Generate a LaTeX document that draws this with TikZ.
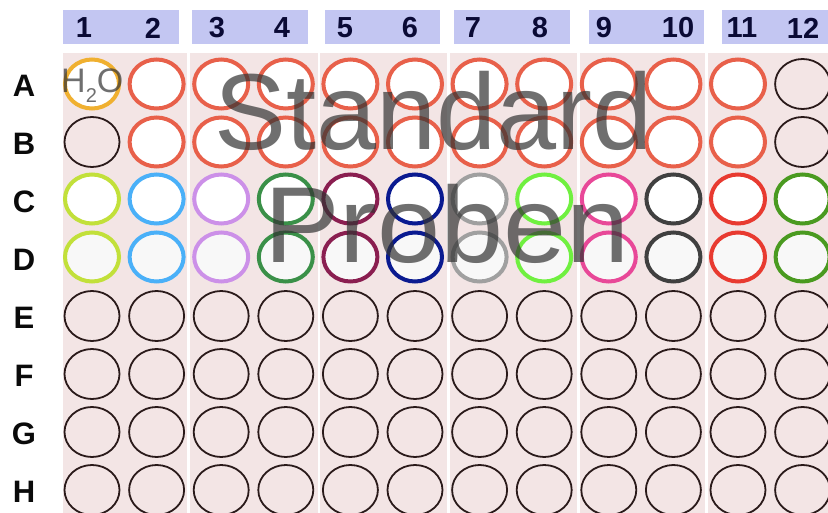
\documentclass[tikz,border=0pt]{standalone}
\usepackage{fontspec}
\setmainfont{Liberation Sans}
\usetikzlibrary{shapes.geometric}
\definecolor{hdr}{HTML}{C3C6F2}
\definecolor{pinkbg}{HTML}{F3E5E5}
\definecolor{numcol}{HTML}{0A0A35}
\definecolor{labcol}{HTML}{0A0A0A}
\definecolor{emptycol}{HTML}{2A1A1A}
\definecolor{redw}{HTML}{E8604A}
\definecolor{orw}{HTML}{F0B030}
\definecolor{dfill}{HTML}{F8F8F8}
\definecolor{k1}{HTML}{C2E03A}
\definecolor{k2}{HTML}{4AB0F8}
\definecolor{k3}{HTML}{CC90E8}
\definecolor{k4}{HTML}{3A9048}
\definecolor{k5}{HTML}{8A1E50}
\definecolor{k6}{HTML}{0A1A90}
\definecolor{k7}{HTML}{A0A0A0}
\definecolor{k8}{HTML}{70F040}
\definecolor{k9}{HTML}{E84898}
\definecolor{k10}{HTML}{404040}
\definecolor{k11}{HTML}{E83A30}
\definecolor{k12}{HTML}{4A9A20}
\definecolor{ovl}{HTML}{333333}
\tikzset{
  well/.style={ellipse, inner sep=0pt, minimum width=54pt, minimum height=49pt, line width=4pt, fill=white},
  emptywell/.style={ellipse, inner sep=0pt, minimum width=55pt, minimum height=50pt, line width=1.8pt, draw=emptycol},
  colnum/.style={inner sep=0pt, text=numcol, font=\fontsize{29}{29}\selectfont\bfseries},
  rowlab/.style={inner sep=0pt, text=labcol, font=\fontsize{31}{31}\selectfont\bfseries},
  ovltext/.style={inner sep=0pt, anchor=base west, text=ovl, text opacity=0.7, font=\fontsize{108}{108}\selectfont},
  h2otext/.style={inner sep=0pt, anchor=base west, text=ovl, text opacity=0.7, font=\fontsize{34}{34}\selectfont}
}
\begin{document}
\begin{tikzpicture}[x=1pt,y=-1pt]
\useasboundingbox (0,0) rectangle (828,513);
\fill[white] (0,0) rectangle (828,513);
% plate panels
\foreach \a/\b in {63/187,190/318,320/447,450/577,580/705,708/828}
  \fill[pinkbg] (\a,53) rectangle (\b,513);
% header bars
\foreach \a/\b in {63/179,192/308,325/440,454/570,589/704,722/828}
  \fill[hdr] (\a,10) rectangle (\b,44);
% column numbers
\foreach \n/\x in {1/84,2/153,3/217,4/282,5/345,6/410,7/473,8/540,9/604,10/678,11/742,12/803}
  \node[colnum] (col\n) at (\x,28) {\n};
% row labels
\foreach \rl [count=\rr] in {A,B,C,D,E,F,G,H}
  \node[rowlab] (row\rl) at (24,{86+58*(\rr-1)}) {\rl};
% empty wells
\foreach \rl/\rr in {E/5,F/6,G/7,H/8}
  \foreach \c in {1,...,12}
    \node[emptywell] (w\rl\c) at ({92+64.6*(\c-1)},{84+58*(\rr-1)}) {};
\node[emptywell] (wA12) at ({92+64.6*11},84) {};
\node[emptywell] (wB1) at (92,142) {};
\node[emptywell] (wB12) at ({92+64.6*11},142) {};
% standard wells
\node[well, draw=orw] (wA1) at (92,84) {};
\foreach \rl/\rr in {A/1,B/2}
  \foreach \c in {2,...,11}
    \node[well, draw=redw] (w\rl\c) at ({92+64.6*(\c-1)},{84+58*(\rr-1)}) {};
% sample wells
\foreach \c in {1,...,12} {
  \node[well, draw=k\c] (wC\c) at ({92+64.6*(\c-1)},199) {};
  \node[well, draw=k\c, fill=dfill] (wD\c) at ({92+64.6*(\c-1)},257) {};
}
% overlay texts
\node[h2otext] (h2o) at (61,93) {H\raisebox{-0.27em}{\fontsize{20}{20}\selectfont 2}O};
\node[ovltext] (std) at (214,150) {Standard};
\node[ovltext, xscale=1.05] (prb) at (264,263) {Proben};
\end{tikzpicture}
\end{document}
